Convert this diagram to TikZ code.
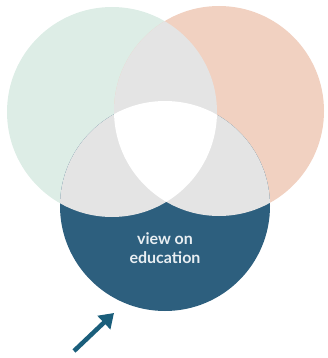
\documentclass[tikz,border=0pt]{standalone}
\usepackage{fontspec}
\setmainfont{Lato}
\usetikzlibrary{arrows.meta}
\definecolor{cgreen}{HTML}{DDEDE6}
\definecolor{cpeach}{HTML}{F1D1C1}
\definecolor{cblue}{HTML}{2D5F7E}
\definecolor{cgray}{HTML}{E4E4E4}
\definecolor{carrow}{HTML}{1A5E7B}
\definecolor{ctext}{HTML}{E8EEF2}
\tikzset{
  labeltext/.style={text=ctext, align=center, font=\bfseries\fontsize{16}{18.5}\selectfont, inner sep=0pt},
  pointer/.style={carrow, line width=4.5pt, -{Triangle[length=14pt,width=18pt]}}
}
\begin{document}
\begin{tikzpicture}[x=1pt,y=-1pt]
\useasboundingbox (0,0) rectangle (328,358);
\def\rr{105}
\coordinate (L) at (112,112);
\coordinate (R) at (219,111);
\coordinate (B) at (165,206);
\fill[cgreen] (L) circle[radius=\rr];
\fill[cpeach] (R) circle[radius=\rr];
\fill[cblue] (B) circle[radius=\rr];
\begin{scope}
  \clip (L) circle[radius=\rr];
  \fill[cgray] (R) circle[radius=\rr];
  \fill[cgray] (B) circle[radius=\rr];
\end{scope}
\begin{scope}
  \clip (R) circle[radius=\rr];
  \fill[cgray] (B) circle[radius=\rr];
\end{scope}
\begin{scope}
  \clip (L) circle[radius=\rr];
  \clip (R) circle[radius=\rr];
  \fill[white] (B) circle[radius=\rr];
\end{scope}
\node[labeltext] (label) at (165,248) {view on\\education};
\coordinate (tail) at (74,351);
\coordinate (tip) at (114,313);
\draw[pointer] (tail) -- (tip);
\end{tikzpicture}
\end{document}
